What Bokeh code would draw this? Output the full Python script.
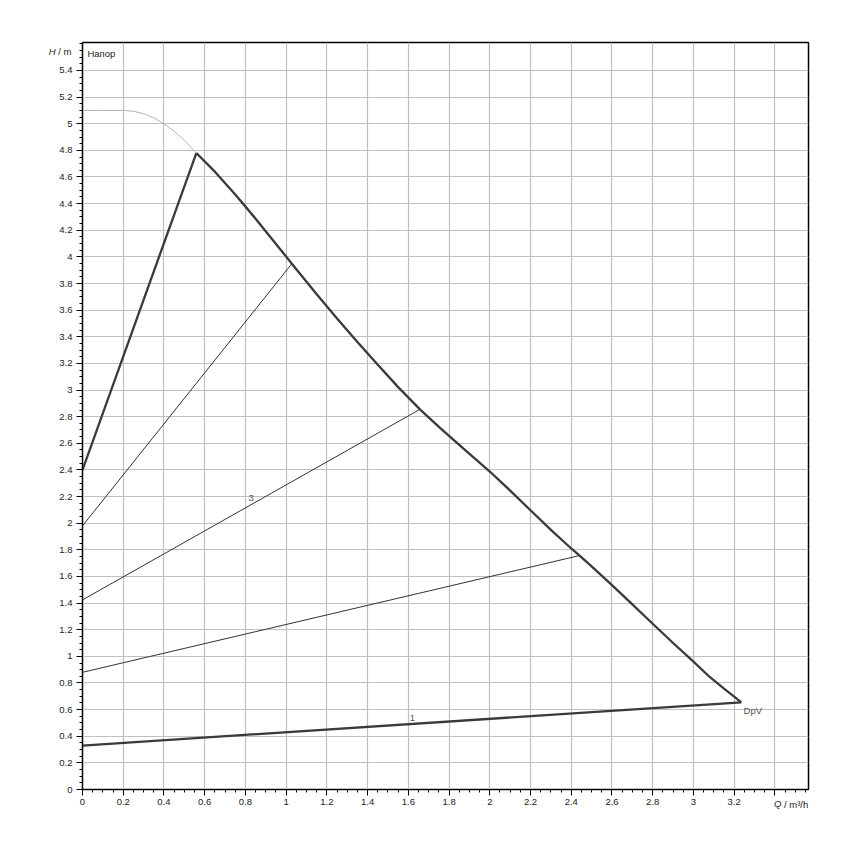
from bokeh.plotting import figure
from bokeh.models import (FixedTicker, NumeralTickFormatter, Label, Range1d,
                          ColumnDataSource, Grid, LinearAxis)
from bokeh.embed import file_html
from bokeh.resources import INLINE
from bokeh.core.properties import value

# ---- data ----
# max curve beyond the operating area (thin gray)
q_ext = [0.0, 0.1, 0.2, 0.25, 0.3, 0.35, 0.4, 0.45, 0.5, 0.559]
h_ext = [5.1, 5.1, 5.1, 5.094, 5.075, 5.044, 5.0, 4.944, 4.875, 4.78]

# upper-left limit (thick)
q_left = [0.0, 0.559]
h_left = [2.4, 4.78]

# max speed curve (thick)
q_max = [0.559, 0.65, 0.75, 0.85, 0.95, 1.05, 1.15, 1.25, 1.35, 1.45, 1.55,
         1.657, 1.75, 1.85, 2.0, 2.1, 2.2, 2.3, 2.4, 2.441, 2.5, 2.6, 2.7,
         2.8, 2.9, 3.0, 3.08, 3.15, 3.2, 3.235]
h_max = [4.78, 4.64, 4.468, 4.287, 4.097, 3.907, 3.72, 3.538, 3.36, 3.19, 3.022,
         2.855, 2.724, 2.588, 2.388, 2.245, 2.097, 1.95, 1.81, 1.757, 1.675, 1.535, 1.39,
         1.245, 1.10, 0.96, 0.845, 0.757, 0.697, 0.655]

# intermediate control lines (thin)
q_a = [0.0, 1.028]
h_a = [1.98, 3.949]
q_b = [0.0, 1.657]
h_b = [1.424, 2.855]
q_c = [0.0, 2.441]
h_c = [0.88, 1.757]

# min line (thick)
q_min = [0.0, 3.235]
h_min = [0.33, 0.655]

# curve labels
lab_text = ["3", "1"]
lab_q = [0.828, 1.62]
lab_h = [2.19, 0.538]
dpv_text = "DpV"
dpv_q = 3.246
dpv_h = 0.593

x_major = [round(i * 0.2, 1) for i in range(0, 18)]   # 0 .. 3.4
x_minor = [round(i * 0.05, 2) for i in range(0, 72)]
y_major = [round(i * 0.2, 1) for i in range(0, 28)]   # 0 .. 5.4
y_minor = [round(i * 0.05, 2) for i in range(0, 113)]

# axis titles, placed as tick labels of label-only axes
q_title_pos = [3.414, 3.504]
q_title_txt = ["Q", "/ m³/h"]
h_title_pos = 5.539
h_title_txt = ["H", "/ m"]

FONT = "Liberation Sans"
FS = "9.5px"
TXT = "#222222"

p = figure(frame_width=726, frame_height=747,
           min_border_left=82, min_border_top=42, min_border_right=34, min_border_bottom=55,
           x_range=Range1d(0, 3.565), y_range=Range1d(0, 5.61),
           output_backend="svg", toolbar_location=None,
           x_axis_type=None, y_axis_type=None)
p.background_fill_color = "white"
p.border_fill_color = "white"
p.outline_line_color = "black"
p.outline_line_width = 1.5

xaxis = LinearAxis(ticker=FixedTicker(ticks=x_major, minor_ticks=x_minor),
                   formatter=NumeralTickFormatter(format="0.[0]"))
yaxis = LinearAxis(ticker=FixedTicker(ticks=y_major, minor_ticks=y_minor),
                   formatter=NumeralTickFormatter(format="0.[0]"))
for ax in (xaxis, yaxis):
    ax.major_tick_in = 0
    ax.major_tick_out = 6
    ax.minor_tick_in = 0
    ax.minor_tick_out = 3
    ax.axis_line_color = "black"
    ax.major_tick_line_color = "black"
    ax.minor_tick_line_color = "black"
    ax.major_label_text_font = FONT
    ax.major_label_text_font_size = FS
    ax.major_label_text_color = TXT
xaxis.major_label_overrides = {3.4: ""}
xaxis.major_label_standoff = 3
yaxis.major_label_standoff = 4
p.add_layout(xaxis, "below")
p.add_layout(yaxis, "left")


def title_axis(pos, txt, style, standoff, side):
    ax = LinearAxis(ticker=FixedTicker(ticks=[pos], minor_ticks=[]))
    ax.major_label_overrides = {pos: txt}
    ax.axis_line_color = None
    ax.major_tick_line_color = None
    ax.minor_tick_line_color = None
    ax.major_tick_in = 0
    ax.major_tick_out = 0
    ax.minor_tick_in = 0
    ax.minor_tick_out = 0
    ax.major_label_standoff = standoff
    ax.major_label_text_font = FONT
    ax.major_label_text_font_size = FS
    ax.major_label_text_color = TXT
    ax.major_label_text_font_style = style
    p.add_layout(ax, side)
    return ax


title_axis(q_title_pos[0], q_title_txt[0], "italic", -10, "below")
title_axis(q_title_pos[1], q_title_txt[1], "normal", -13, "below")
title_axis(h_title_pos, h_title_txt[1], "normal", -15, "left")
title_axis(h_title_pos, h_title_txt[0], "italic", 0, "left")

gx = Grid(dimension=0, ticker=FixedTicker(ticks=x_major[1:]))
gy = Grid(dimension=1, ticker=FixedTicker(ticks=y_major[1:]))
for g in (gx, gy):
    g.grid_line_color = "#c0c0c0"
    g.grid_line_width = 1.2
    p.add_layout(g)

p.line(q_ext, h_ext, line_color="#b4b4b4", line_width=1)
p.line(q_a, h_a, line_color="#333333", line_width=1)
p.line(q_b, h_b, line_color="#333333", line_width=1)
p.line(q_c, h_c, line_color="#333333", line_width=1)
p.line(q_left, h_left, line_color="#3a3a3a", line_width=2.3)
p.line(q_max, h_max, line_color="#3a3a3a", line_width=2.3, line_join="round")
p.line(q_min, h_min, line_color="#3a3a3a", line_width=2.3)

src = ColumnDataSource(dict(x=lab_q, y=lab_h, t=lab_text))
p.text(x="x", y="y", text="t", source=src, text_font=value(FONT),
       text_font_size=FS, text_color="#555555", text_align="center",
       text_baseline="middle")
p.text(x=[dpv_q], y=[dpv_h], text=[dpv_text], text_font=value(FONT),
       text_font_size=FS, text_color="#555555", text_align="left",
       text_baseline="middle")

p.add_layout(Label(x=0.024, y=5.53, text="Напор", text_font=FONT, text_font_size=FS,
                   text_color=TXT, text_align="left", text_baseline="middle"))

open("out.html", "w").write(file_html(p, INLINE))
